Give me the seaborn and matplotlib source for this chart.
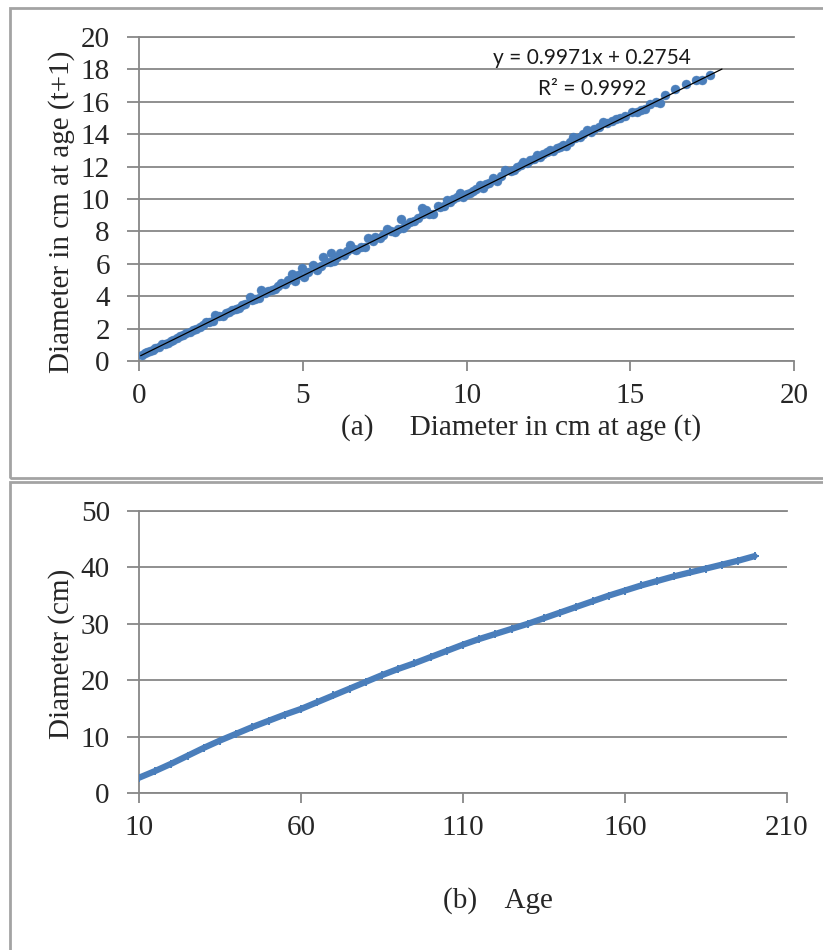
import numpy as np
import pandas as pd
import matplotlib
matplotlib.use("Agg")
import matplotlib.pyplot as plt
from matplotlib.patches import Rectangle
import seaborn as sns

# --- data ---
# panel (a): diameter at age t vs diameter at age t+1
diam_t = [0.10, 0.18, 0.25, 0.33, 0.42, 0.50, 0.60, 0.70, 0.78, 0.88, 0.97, 1.05,
          1.15, 1.25, 1.35, 1.45, 1.55, 1.65, 1.75, 1.85, 1.95, 2.05, 2.15, 2.25,
          2.32, 2.45, 2.55, 2.65, 2.75, 2.85, 2.95, 3.05, 3.15, 3.25, 3.39, 3.45,
          3.55, 3.65, 3.74, 3.85, 3.95, 4.05, 4.15, 4.25, 4.35,
          4.45, 4.55, 4.66, 4.75, 4.85, 4.97, 5.05, 5.15, 5.32, 5.45, 5.55, 5.63,
          5.72, 5.83, 5.85, 5.95, 6.05, 6.14, 6.25, 6.35, 6.44, 6.55, 6.64, 6.78,
          6.90, 7.00, 7.15, 7.20, 7.35, 7.45, 7.56, 7.70, 7.82, 7.92, 7.99, 8.05,
          8.15, 8.27, 8.40, 8.53, 8.63, 8.68, 8.75, 8.85, 8.99, 9.14, 9.19, 9.30,
          9.40, 9.50, 9.60, 9.70, 9.80, 9.90, 10.00, 10.10, 10.20, 10.30, 10.41,
          10.50, 10.60, 10.70, 10.82, 10.92, 11.05, 11.18, 11.35, 11.45, 11.55,
          11.65, 11.73, 11.85, 11.95, 12.05, 12.14, 12.25, 12.35, 12.45, 12.55,
          12.65, 12.75, 12.85, 12.96, 13.05, 13.15, 13.26, 13.31, 13.45, 13.55,
          13.67, 13.80, 13.90, 14.05, 14.17, 14.30, 14.45, 14.55, 14.69, 14.85,
          15.04, 15.20, 15.32, 15.45, 15.60, 15.80, 15.90, 16.06, 16.37, 16.70,
          17.02, 17.20, 17.44]
diam_t1 = [0.35, 0.50, 0.55, 0.62, 0.70, 0.82, 0.88, 1.05, 1.02, 1.12, 1.25, 1.30,
           1.45, 1.52, 1.60, 1.75, 1.80, 1.92, 2.00, 2.12, 2.20, 2.38, 2.40, 2.50,
           2.84, 2.78, 2.80, 2.95, 3.05, 3.12, 3.20, 3.30, 3.45, 3.50, 3.97, 3.78,
           3.82, 3.90, 4.38, 4.20, 4.30, 4.38, 4.45, 4.62, 4.80,
           4.75, 5.00, 5.40, 4.95, 5.30, 5.72, 5.20, 5.50, 5.93, 5.60, 5.85, 6.44,
           6.10, 6.13, 6.65, 6.20, 6.40, 6.65, 6.55, 6.80, 7.16, 6.90, 6.85, 7.05,
           7.05, 7.60, 7.40, 7.67, 7.60, 7.75, 8.13, 8.00, 7.98, 8.15, 8.74, 8.20,
           8.40, 8.60, 8.65, 8.80, 9.43, 9.10, 9.30, 9.05, 9.10, 9.57, 9.52, 9.60,
           9.94, 9.80, 10.00, 10.10, 10.35, 10.10, 10.30, 10.35, 10.50, 10.60, 10.86,
           10.70, 10.90, 11.00, 11.27, 11.10, 11.45, 11.79, 11.70, 11.80, 11.95,
           12.10, 12.30, 12.20, 12.40, 12.45, 12.72, 12.60, 12.75, 12.90, 13.02,
           12.95, 13.15, 13.20, 13.33, 13.30, 13.55, 13.85, 13.75, 13.80, 14.00,
           14.26, 14.15, 14.30, 14.45, 14.77, 14.70, 14.80, 14.95, 14.98, 15.10,
           15.39, 15.40, 15.50, 15.53, 15.85, 16.00, 15.95, 16.42, 16.77, 17.13,
           17.35, 17.35, 17.65]
trend_slope = 0.9971
trend_intercept = 0.2754
trend_span = [0.05, 17.8]
eq_text = "y = 0.9971x + 0.2754"
r2_text = "R\u00b2 = 0.9992"

# panel (b): diameter vs age
age = [10, 15, 20, 25, 30, 35, 40, 45, 50, 55, 60, 65, 70, 75, 80, 85, 90, 95,
       100, 105, 110, 115, 120, 125, 130, 135, 140, 145, 150, 155, 160, 165,
       170, 175, 180, 185, 190, 195, 200]
diameter = [2.7, 3.9, 5.2, 6.6, 8.0, 9.3, 10.5, 11.7, 12.8, 13.9, 14.9, 16.1,
            17.3, 18.5, 19.7, 20.9, 22.0, 23.0, 24.1, 25.2, 26.3, 27.3, 28.2,
            29.1, 30.0, 31.0, 32.0, 33.0, 34.0, 35.0, 35.9, 36.8, 37.6, 38.4,
            39.1, 39.8, 40.5, 41.2, 42.0]

a_xticks = [0, 5, 10, 15, 20]
a_yticks = [0, 2, 4, 6, 8, 10, 12, 14, 16, 18, 20]
b_xticks = [10, 60, 110, 160, 210]
b_yticks = [0, 10, 20, 30, 40, 50]

BLUE = "#4a7ebb"
GRID = "#878787"
FS = 21

sns.set_theme(style="white")
plt.rcParams["font.family"] = ["Liberation Serif", "DejaVu Serif"]

fig = plt.figure(figsize=(8.23, 9.5), dpi=100)
ax1 = fig.add_axes([0.1689, 0.62, 0.7959, 0.341])
ax2 = fig.add_axes([0.1689, 0.1653, 0.7874, 0.2968])

# panel borders
fig.add_artist(Rectangle((0.0122, 0.4968), 1.2, 0.4948, transform=fig.transFigure,
                         fill=False, edgecolor="#a3a3a3", lw=2))
fig.add_artist(Rectangle((0.0122, -0.2), 1.2, 0.6926, transform=fig.transFigure,
                         fill=False, edgecolor="#a3a3a3", lw=2))

# --- (a) scatter + trendline
df_a = pd.DataFrame({"t": diam_t, "t1": diam_t1})
sns.scatterplot(data=df_a, x="t", y="t1", ax=ax1, color=BLUE, s=42,
                edgecolor=BLUE, linewidth=0.3, zorder=3)
trend = pd.DataFrame({"x": trend_span})
trend["y"] = trend_slope * trend["x"] + trend_intercept
sns.lineplot(data=trend, x="x", y="y", ax=ax1, color="black", lw=0.9, zorder=4)
ax1.text(13.83, 18.7, eq_text, ha="center", va="center", fontsize=15,
         family=["Lato", "DejaVu Sans"], color="#1a1a1a")
ax1.text(13.83, 16.8, r2_text, ha="center", va="center", fontsize=15,
         family=["Lato", "DejaVu Sans"], color="#1a1a1a")

ax1.set_xlim(0, 20)
ax1.set_ylim(0, 20)
ax1.set_xticks(a_xticks)
ax1.set_yticks(a_yticks)
ax1.set_xlabel("(a)     Diameter in cm at age (t)", fontsize=FS)
ax1.set_ylabel("Diameter in cm at age (t+1)", fontsize=FS)
ax1.xaxis.set_label_coords(0.583, -0.165)
ax1.yaxis.set_label_coords(-0.098, 0.46)

# --- (b) diameter vs age
df_b = pd.DataFrame({"age": age, "diameter": diameter})
sns.lineplot(data=df_b, x="age", y="diameter", ax=ax2, color=BLUE, lw=4.5,
             marker="+", markersize=6, markeredgewidth=1.4, markeredgecolor=BLUE,
             zorder=3)
ax2.set_xlim(10, 210)
ax2.set_ylim(0, 50)
ax2.set_xticks(b_xticks)
ax2.set_yticks(b_yticks)
ax2.set_xlabel("(b)    Age", fontsize=FS)
ax2.set_ylabel("Diameter (cm)", fontsize=FS)
ax2.xaxis.set_label_coords(0.554, -0.335)
ax2.yaxis.set_label_coords(-0.099, 0.495)

for ax in (ax1, ax2):
    ax.grid(axis="y", color=GRID, lw=1.3)
    ax.grid(axis="x", visible=False)
    for side in ("left", "bottom", "top"):
        ax.spines[side].set_color(GRID)
        ax.spines[side].set_linewidth(1.3)
    ax.spines["right"].set_visible(False)
    ax.tick_params(axis="y", direction="out", length=9, width=1.3, color=GRID,
                   pad=12, labelsize=FS, left=True)
    ax.tick_params(axis="x", direction="out", length=7, width=1.3, color=GRID,
                   pad=9, labelsize=FS, bottom=True)

fig.savefig("out.png", dpi=100)
